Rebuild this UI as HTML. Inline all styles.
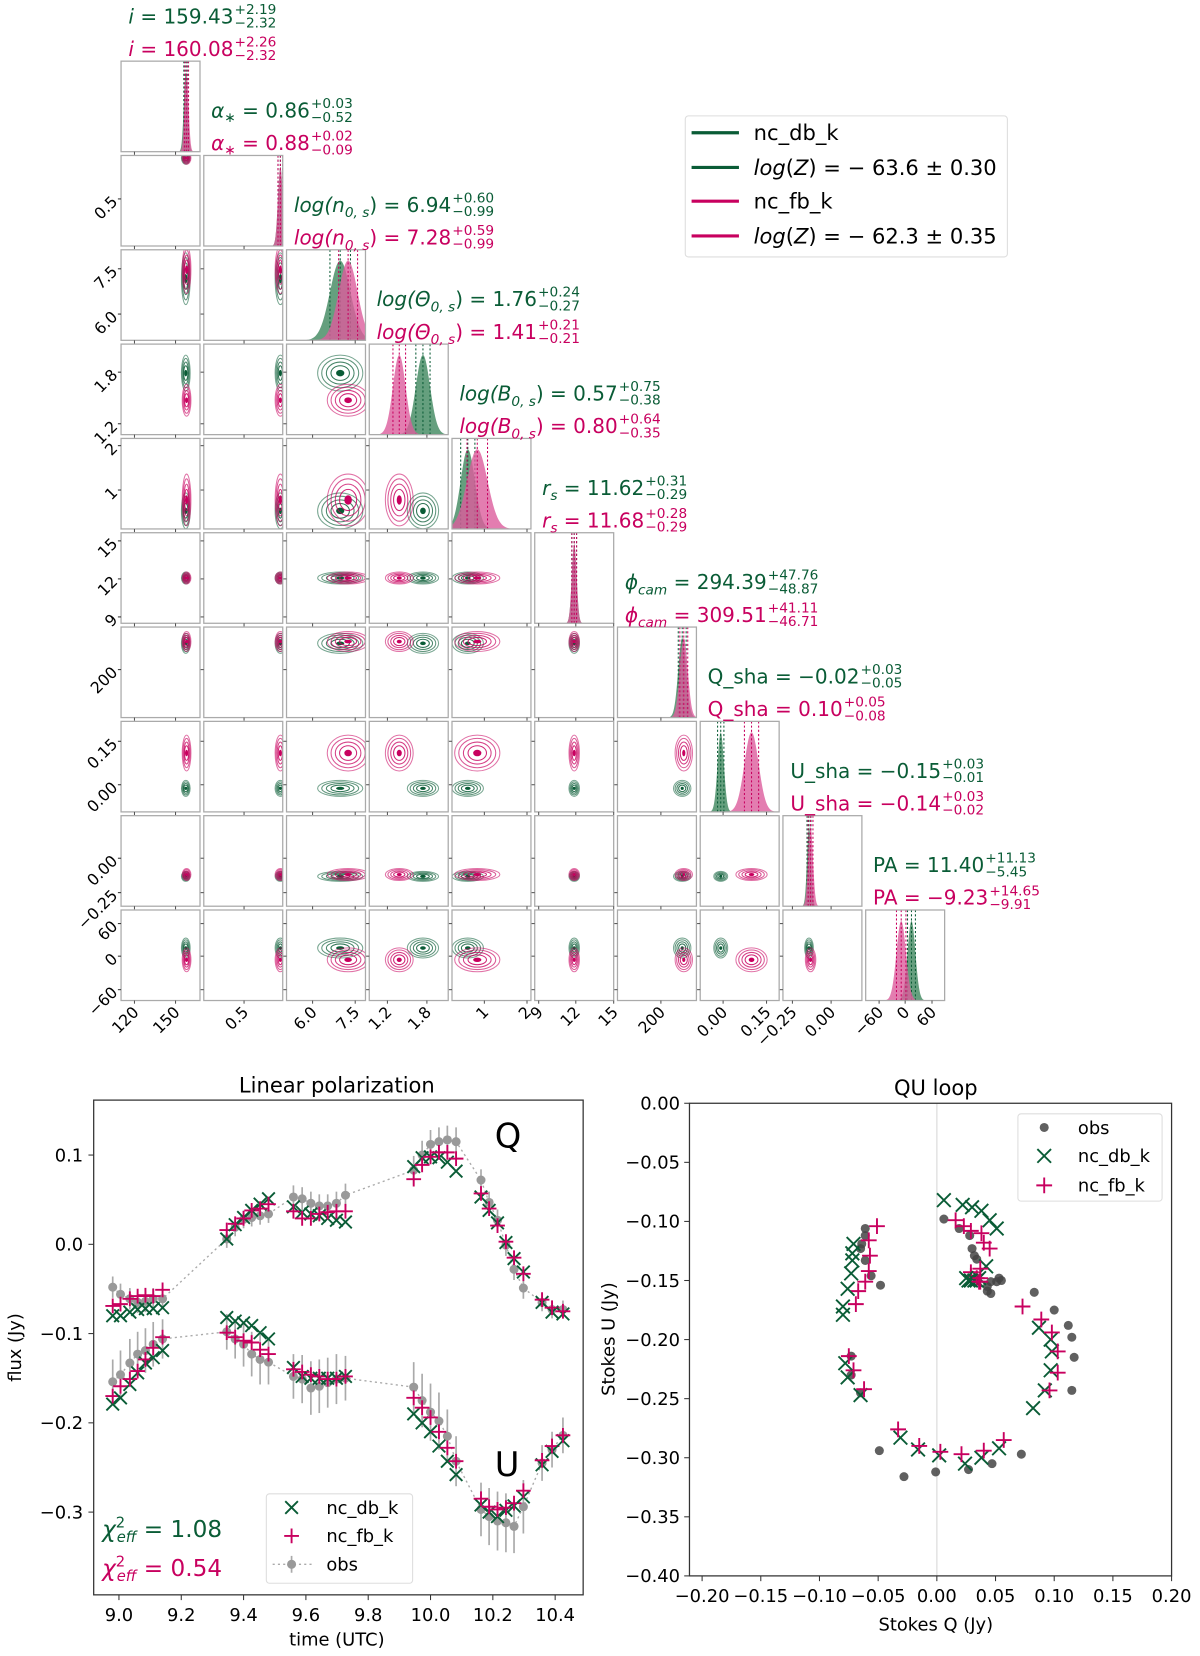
<!DOCTYPE html>
<html><head><meta charset="utf-8"><style>
html,body{margin:0;padding:0;background:#fff;}
svg{display:block;font-family:"DejaVu Sans","Liberation Sans",sans-serif;}
</style></head><body>
<svg id="fig" xmlns="http://www.w3.org/2000/svg" width="1200" height="1656" viewBox="0 0 1140 1573">
<g id="corner"></g>
<g id="legendTop">
  <rect x="651" y="110" width="306" height="134" rx="3" fill="#fff" stroke="#ddd"/>
  <line x1="657" y1="126" x2="702" y2="126" stroke="#0a5c36" stroke-width="3"/>
  <text x="716" y="133" font-size="20" fill="#000">nc_db_k</text>
  <line x1="657" y1="159" x2="702" y2="159" stroke="#0a5c36" stroke-width="3"/>
  <text x="716" y="166" font-size="20" fill="#000"><tspan font-style="italic">log</tspan>(<tspan font-style="italic">Z</tspan>) = − 63.6 ± 0.30</text>
  <line x1="657" y1="191" x2="702" y2="191" stroke="#c8005f" stroke-width="3"/>
  <text x="716" y="198" font-size="20" fill="#000">nc_fb_k</text>
  <line x1="657" y1="224" x2="702" y2="224" stroke="#c8005f" stroke-width="3"/>
  <text x="716" y="231" font-size="20" fill="#000"><tspan font-style="italic">log</tspan>(<tspan font-style="italic">Z</tspan>) = − 62.3 ± 0.35</text>
</g>
<g id="lp"></g>
<g id="qu"></g>
</svg>
<script>
// ===== Corner plot data (fractions of panel axis) =====
const cornerParams = ['i','alpha','n0s','theta0s','B0s','rs','phicam','Qsha','Usha','PA'];
const greenMu = [0.82,0.97,0.68,0.68,0.20,0.50,0.82,0.26,0.33,0.58];
const greenSd = [0.025,0.03,0.13,0.09,0.09,0.03,0.05,0.04,0.025,0.05];
const pinkMu  = [0.83,0.97,0.78,0.38,0.32,0.50,0.84,0.65,0.35,0.45];
const pinkSd  = [0.025,0.03,0.12,0.08,0.13,0.03,0.05,0.09,0.03,0.06];
const xTickFrac = [[0.17,0.69],[0.51],[0.33,0.87],[0.23,0.73],[0.41,0.95],[0.05,0.52,1.0],[0.55],[0.29,0.84],[0.12,0.61],[0.17,0.5,0.84]];
const xTickLab  = [['120','150'],['0.5'],['6.0','7.5'],['1.2','1.8'],['1','2'],['9','12','15'],['200'],['0.00','0.15'],['−0.25','0.00'],['−60','0','60']];
const yTickFrac = [[],[0.48],[0.21,0.71],[0.31,0.88],[0.08,0.57],[0.09,0.51,0.93],[0.47],[0.22,0.70],[0.47,0.85],[0.15,0.51,0.88]];
const yTickLab  = [[],['0.5'],['7.5','6.0'],['1.8','1.2'],['2','1'],['15','12','9'],['200'],['0.15','0.00'],['0.00','−0.25'],['60','0','−60']];
const titleMainG = ['<tspan font-style="italic">i</tspan> = 159.43',
 '<tspan font-style="italic">α</tspan><tspan font-size="13" dy="4">∗</tspan><tspan dy="-4"> = 0.86</tspan>',
 '<tspan font-style="italic">log(n</tspan><tspan font-size="13" dy="5" font-style="italic">0, s</tspan><tspan dy="-5">) = 6.94</tspan>',
 '<tspan font-style="italic">log(Θ</tspan><tspan font-size="13" dy="5" font-style="italic">0, s</tspan><tspan dy="-5">) = 1.76</tspan>',
 '<tspan font-style="italic">log(B</tspan><tspan font-size="13" dy="5" font-style="italic">0, s</tspan><tspan dy="-5">) = 0.57</tspan>',
 '<tspan font-style="italic">r</tspan><tspan font-size="13" dy="5" font-style="italic">s</tspan><tspan dy="-5"> = 11.62</tspan>',
 '<tspan font-style="italic">ϕ</tspan><tspan font-size="13" dy="5" font-style="italic">cam</tspan><tspan dy="-5"> = 294.39</tspan>',
 'Q_sha = −0.02','U_sha = −0.15','PA = 11.40'];
const titleMainP = ['<tspan font-style="italic">i</tspan> = 160.08',
 '<tspan font-style="italic">α</tspan><tspan font-size="13" dy="4">∗</tspan><tspan dy="-4"> = 0.88</tspan>',
 '<tspan font-style="italic">log(n</tspan><tspan font-size="13" dy="5" font-style="italic">0, s</tspan><tspan dy="-5">) = 7.28</tspan>',
 '<tspan font-style="italic">log(Θ</tspan><tspan font-size="13" dy="5" font-style="italic">0, s</tspan><tspan dy="-5">) = 1.41</tspan>',
 '<tspan font-style="italic">log(B</tspan><tspan font-size="13" dy="5" font-style="italic">0, s</tspan><tspan dy="-5">) = 0.80</tspan>',
 '<tspan font-style="italic">r</tspan><tspan font-size="13" dy="5" font-style="italic">s</tspan><tspan dy="-5"> = 11.68</tspan>',
 '<tspan font-style="italic">ϕ</tspan><tspan font-size="13" dy="5" font-style="italic">cam</tspan><tspan dy="-5"> = 309.51</tspan>',
 'Q_sha = 0.10','U_sha = −0.14','PA = −9.23'];
const supG = ['+2.19','+0.03','+0.60','+0.24','+0.75','+0.31','+47.76','+0.03','+0.03','+11.13'];
const subG = ['−2.32','−0.52','−0.99','−0.27','−0.38','−0.29','−48.87','−0.05','−0.01','−5.45'];
const supP = ['+2.26','+0.02','+0.59','+0.21','+0.64','+0.28','+41.11','+0.05','+0.03','+14.65'];
const subP = ['−2.32','−0.09','−0.99','−0.21','−0.35','−0.29','−46.71','−0.08','−0.02','−9.91'];

// ===== Time series data =====
const times = [8.98,9.005,9.035,9.06,9.085,9.11,9.14, 9.346,9.373,9.40,9.426,9.453,9.48, 9.56,9.588,9.616,9.643,9.67,9.698,9.727, 9.946,9.973,10.0,10.027,10.054,10.082, 10.162,10.188,10.215,10.242,10.268,10.298, 10.358,10.39,10.425];
const qDb = [-0.080,-0.080,-0.076,-0.073,-0.072,-0.072,-0.071, 0.006,0.022,0.030,0.038,0.045,0.051, 0.042,0.036,0.034,0.032,0.029,0.027,0.025, 0.087,0.097,0.098,0.097,0.092,0.082, 0.053,0.038,0.024,0.002,-0.016,-0.031, -0.065,-0.076,-0.078];
const qFb = [-0.069,-0.067,-0.061,-0.058,-0.057,-0.058,-0.051, 0.016,0.023,0.029,0.038,0.040,0.045, 0.037,0.029,0.029,0.034,0.036,0.037,0.037, 0.073,0.089,0.098,0.103,0.103,0.096, 0.057,0.040,0.021,0.003,-0.015,-0.033, -0.062,-0.071,-0.075];
const qObs = [-0.048,-0.056,-0.061,-0.065,-0.064,-0.061,-0.061, 0.006,0.019,0.028,0.030,0.032,0.034, 0.053,0.051,0.046,0.043,0.043,0.046,0.055, 0.083,0.100,0.112,0.115,0.117,0.115, 0.072,0.047,0.027,-0.001,-0.028,-0.049, -0.065,-0.073,-0.073];
const uDb = [-0.179,-0.172,-0.157,-0.144,-0.133,-0.127,-0.119, -0.082,-0.086,-0.088,-0.091,-0.099,-0.106, -0.138,-0.148,-0.150,-0.150,-0.150,-0.150,-0.148, -0.190,-0.200,-0.210,-0.226,-0.243,-0.258, -0.292,-0.300,-0.305,-0.298,-0.293,-0.283, -0.247,-0.232,-0.220];
const uFb = [-0.170,-0.159,-0.151,-0.142,-0.129,-0.116,-0.104, -0.099,-0.104,-0.108,-0.110,-0.118,-0.123, -0.140,-0.143,-0.146,-0.148,-0.151,-0.151,-0.148, -0.172,-0.183,-0.194,-0.210,-0.228,-0.243, -0.285,-0.294,-0.297,-0.295,-0.290,-0.276, -0.242,-0.226,-0.214];
const uObs = [-0.154,-0.146,-0.133,-0.123,-0.119,-0.112,-0.106, -0.098,-0.106,-0.112,-0.123,-0.129,-0.132, -0.148,-0.151,-0.161,-0.159,-0.155,-0.151,-0.150, -0.160,-0.175,-0.188,-0.198,-0.215,-0.243, -0.297,-0.305,-0.310,-0.312,-0.316,-0.294, -0.245,-0.230,-0.214];
const qErr = [0.012,0.012,0.012,0.012,0.012,0.012,0.012, 0.010,0.010,0.010,0.010,0.010,0.010, 0.013,0.013,0.013,0.013,0.013,0.013,0.013, 0.016,0.016,0.016,0.016,0.016,0.016, 0.012,0.012,0.012,0.012,0.012,0.012, 0.010,0.010,0.010];
const uErr = [0.025,0.027,0.027,0.025,0.025,0.025,0.022, 0.020,0.022,0.025,0.025,0.028,0.025, 0.025,0.027,0.030,0.030,0.028,0.028,0.025, 0.028,0.030,0.032,0.032,0.030,0.028, 0.030,0.032,0.033,0.033,0.030,0.030, 0.020,0.020,0.020];
const lpYTicks = [0.1,0.0,-0.1,-0.2,-0.3];
const lpYLabels = ['0.1','0.0','−0.1','−0.2','−0.3'];
const lpXTicks = [9.0,9.2,9.4,9.6,9.8,10.0,10.2,10.4];
const lpXLabels = ['9.0','9.2','9.4','9.6','9.8','10.0','10.2','10.4'];
const quXTicks = [-0.20,-0.15,-0.10,-0.05,0.00,0.05,0.10,0.15,0.20];
const quXLabels = ['−0.20','−0.15','−0.10','−0.05','0.00','0.05','0.10','0.15','0.20'];
const quYTicks = [0.00,-0.05,-0.10,-0.15,-0.20,-0.25,-0.30,-0.35,-0.40];
const quYLabels = ['0.00','−0.05','−0.10','−0.15','−0.20','−0.25','−0.30','−0.35','−0.40'];

const NS='http://www.w3.org/2000/svg';
function mk(parent,tag,attrs,txt){const e=document.createElementNS(NS,tag);for(const k in attrs)e.setAttribute(k,attrs[k]);if(txt!==undefined)e.innerHTML=txt;parent.appendChild(e);return e;}
const GC='#0a5c36', PC='#c8005f', GF='#5d9a77', PF='#dc5c9c';

// ===== Corner plot =====
const corner=document.getElementById('corner');
const X0=115,Y0=58,SX=78.6,SY=89.6,PW=75,PH=86;
const defs=mk(document.getElementById('fig'),'defs',{});
for(let r=0;r<10;r++){
  for(let c=0;c<=r;c++){
    const x=X0+c*SX,y=Y0+r*SY;
    const cp=mk(defs,'clipPath',{id:'cp'+r+'_'+c});
    mk(cp,'rect',{x:x,y:y,width:PW,height:PH});
    const g=mk(corner,'g',{'clip-path':'url(#cp'+r+'_'+c+')'});
    
    
    if(r===c){
      [[greenMu,greenSd,GF,GC],[pinkMu,pinkSd,PF,PC]].forEach(([mu,sd,fill,line],si)=>{
        let d='M'+x+','+(y+PH);
        for(let k=0;k<=120;k++){const f=k/120;const z=(f-mu[c])/sd[c];const h=Math.exp(-0.5*z*z)*0.88*PH;d+=' L'+(x+f*PW).toFixed(2)+','+(y+PH-h).toFixed(2);}
        d+=' L'+(x+PW)+','+(y+PH)+' Z';
        const p=mk(g,'path',{d:d,fill:fill,'fill-opacity':si?0.8:0.95,stroke:'none'});
        
        
        [-1,0,1].forEach(m=>{const lx=x+(mu[c]+m*sd[c])*PW;
          const l=mk(g,'line',{x1:lx,y1:y,x2:lx,y2:y+PH,stroke:line,'stroke-width':1,'stroke-dasharray':'2,2'});
          
          });
      });
    } else {
      [[greenMu,greenSd,GC],[pinkMu,pinkSd,PC]].forEach(([mu,sd,col])=>{
        const cx=x+mu[c]*PW, cy=y+(1-mu[r])*PH;
        [2.2,1.8,1.35,0.9].forEach((L,li)=>{
          const e=mk(g,'ellipse',{cx:cx,cy:cy,rx:Math.max(sd[c]*L*PW,2),ry:Math.max(sd[r]*L*PH,2),fill:'none',stroke:col,'stroke-opacity':0.55+li*0.1,'stroke-width':1});
          
          
        });
        const e=mk(g,'ellipse',{cx:cx,cy:cy,rx:Math.max(sd[c]*0.4*PW,1.5),ry:Math.max(sd[r]*0.4*PH,1.5),fill:col});
        
        
      });
    }
    const fr=mk(corner,'rect',{x:x,y:y,width:PW,height:PH,fill:'none',stroke:'#aaa','stroke-width':1.2});
    
    
    xTickFrac[c].forEach(f=>mk(corner,'line',{x1:x+f*PW,y1:y+PH,x2:x+f*PW,y2:y+PH+3,stroke:'#555','stroke-width':1}));
    if(c>0 && r!==c) yTickFrac[r].forEach(f=>mk(corner,'line',{x1:x,y1:y+f*PH,x2:x-3,y2:y+f*PH,stroke:'#555','stroke-width':1}));
    if(c===0) yTickFrac[r].forEach((f,k)=>{
      mk(corner,'line',{x1:x,y1:y+f*PH,x2:x-3,y2:y+f*PH,stroke:'#333','stroke-width':1});
      const t=mk(corner,'text',{x:x-6,y:y+f*PH+5,'font-size':15,'text-anchor':'end',transform:'rotate(-45 '+(x-6)+' '+(y+f*PH)+')'},yTickLab[r][k]);
      
      
    });
    if(r===9) xTickFrac[c].forEach((f,k)=>{
      const tx=x+f*PW+5, ty=y+PH+12;
      const t=mk(corner,'text',{x:tx,y:ty,'font-size':15,'text-anchor':'end',transform:'rotate(-45 '+tx+' '+ty+')'},xTickLab[c][k]);
      
      
    });
  }
}
// titles
for(let k=0;k<10;k++){
  const tx=122+k*SX, gy=22+k*SY, py=gy+31;
  [[titleMainG,supG,subG,gy,GC],[titleMainP,supP,subP,py,PC]].forEach(([mains,sups,subs,ty,col])=>{
    const t=mk(corner,'text',{x:tx,y:ty,'font-size':19,fill:col},mains[k]);
    
    
    let w=0;try{w=t.getComputedTextLength();}catch(e){w=120;}
    const s1=mk(corner,'text',{x:tx+w+1,y:ty-9,'font-size':13,fill:col},sups[k]);
    
    
    const s2=mk(corner,'text',{x:tx+w+1,y:ty+4,'font-size':13,fill:col},subs[k]);
    
    
  });
}

// markers
function xMark(g,x,y,s,col){const p=mk(g,'path',{d:`M${x-s},${y-s}L${x+s},${y+s}M${x-s},${y+s}L${x+s},${y-s}`,stroke:col,'stroke-width':1.8,fill:'none'});return p;}
function pMark(g,x,y,s,col){const p=mk(g,'path',{d:`M${x-s},${y}L${x+s},${y}M${x},${y-s}L${x},${y+s}`,stroke:col,'stroke-width':1.8,fill:'none'});return p;}

// ===== Linear polarization =====
const lp=document.getElementById('lp');
const L={l:89,r:554,t:1045,b:1515};
const xT=t=>113+(t-9)*296, yF=v=>1182-v*848;
const lpClip=mk(defs,'clipPath',{id:'lpc'});mk(lpClip,'rect',{x:L.l,y:L.t,width:L.r-L.l,height:L.b-L.t});
const lpg=mk(lp,'g',{'clip-path':'url(#lpc)'});
[[qObs,qErr],[uObs,uErr]].forEach(([arr,err],si)=>{
  const pl=mk(lpg,'polyline',{points:times.map((t,i)=>xT(t)+','+yF(arr[i])).join(' '),fill:'none',stroke:'#aaa','stroke-width':1.3,'stroke-dasharray':'2,3'});
  
  
  times.forEach((t,i)=>{
    const eb=mk(lpg,'line',{x1:xT(t),y1:yF(arr[i]+err[i]),x2:xT(t),y2:yF(arr[i]-err[i]),stroke:'#aaa','stroke-width':1.6});
    
    
    const c=mk(lpg,'circle',{cx:xT(t),cy:yF(arr[i]),r:4.3,fill:'#999'});
    
    
  });
});
[[qDb,qFb],[uDb,uFb]].forEach(([db,fb],si)=>{
  times.forEach((t,i)=>{
    const a=xMark(lpg,xT(t),yF(db[i]),6,GC);
    
    
    const b=pMark(lpg,xT(t),yF(fb[i]),7,PC);
    
    
  });
});
mk(lp,'rect',{x:L.l,y:L.t,width:L.r-L.l,height:L.b-L.t,fill:'none',stroke:'#333','stroke-width':1.2});
lpYTicks.forEach((v,k)=>{mk(lp,'line',{x1:L.l,y1:yF(v),x2:L.l-5,y2:yF(v),stroke:'#333'});
  const t=mk(lp,'text',{x:L.l-10,y:yF(v)+6,'font-size':17,'text-anchor':'end'},lpYLabels[k]);
  
  });
lpXTicks.forEach((v,k)=>{mk(lp,'line',{x1:xT(v),y1:L.b,x2:xT(v),y2:L.b+5,stroke:'#333'});
  const t=mk(lp,'text',{x:xT(v),y:L.b+25,'font-size':17,'text-anchor':'middle'},lpXLabels[k]);
  
  });
</script>
<script>
function T(parent,x,y,size,txt,name,extra){const t=mk(parent,'text',Object.assign({x:x,y:y,'font-size':size},extra||{}),txt);return t;}
T(lp,320,1038,20,'Linear polarization','chart-title',{'text-anchor':'middle'});
T(lp,320,1563,17,'time (UTC)','x-axis-title',{'text-anchor':'middle'});
T(lp,20,1280,17,'flux (Jy)','y-axis-title',{'text-anchor':'middle',transform:'rotate(-90 20 1280)'});
T(lp,470,1090,32,'Q','q-label');
T(lp,470,1402,32,'U','u-label');
T(lp,97,1460,22,'<tspan font-style="italic">χ</tspan><tspan font-size="14" dy="-9">2</tspan><tspan font-size="14" dy="14" dx="-8" font-style="italic">eff</tspan><tspan dy="-5"> = 1.08</tspan>','chi2-nc-db-k',{fill:GC});
T(lp,97,1497,22,'<tspan font-style="italic">χ</tspan><tspan font-size="14" dy="-9">2</tspan><tspan font-size="14" dy="14" dx="-8" font-style="italic">eff</tspan><tspan dy="-5"> = 0.54</tspan>','chi2-nc-fb-k',{fill:PC});
const lg=mk(lp,'g',{});
mk(lg,'rect',{x:253,y:1419,width:139,height:85,rx:3,fill:'#fff','fill-opacity':0.85,stroke:'#ddd'});
xMark(lg,277,1432,6,GC);T(lg,310,1438,17,'nc_db_k','legend-entry-nc-db-k');
pMark(lg,277,1459,7,PC);T(lg,310,1465,17,'nc_fb_k','legend-entry-nc-fb-k');
mk(lg,'line',{x1:259,y1:1486,x2:297,y2:1486,stroke:'#aaa','stroke-dasharray':'2,3','stroke-width':1.3});
mk(lg,'line',{x1:277,y1:1478,x2:277,y2:1494,stroke:'#aaa','stroke-width':1.6});
mk(lg,'circle',{cx:277,cy:1486,r:4.3,fill:'#999'});
T(lg,310,1492,17,'obs','legend-entry-obs');

// ===== QU loop =====
const qu=document.getElementById('qu');
const Q={l:655,r:1113,t:1048,b:1497};
const xq=q=>890+q*1115, yu=u=>1048-u*1122.5;
mk(qu,'line',{x1:xq(0),y1:Q.t,x2:xq(0),y2:Q.b,stroke:'#e4e4e4','stroke-width':1.5});
times.forEach((t,i)=>{
  const c=mk(qu,'circle',{cx:xq(qObs[i]),cy:yu(uObs[i]),r:4.3,fill:'#444','fill-opacity':0.85});
  
  
});
times.forEach((t,i)=>{
  const a=xMark(qu,xq(qDb[i]),yu(uDb[i]),6.5,GC);
  
  
  const b=pMark(qu,xq(qFb[i]),yu(uFb[i]),7.5,PC);
  
  
});
mk(qu,'rect',{x:Q.l,y:Q.t,width:Q.r-Q.l,height:Q.b-Q.t,fill:'none',stroke:'#333','stroke-width':1.2});
quXTicks.forEach((v,k)=>{mk(qu,'line',{x1:xq(v),y1:Q.b,x2:xq(v),y2:Q.b+5,stroke:'#333'});
  T(qu,xq(v),Q.b+25,17,quXLabels[k],'x-tick-label',{'text-anchor':'middle'});});
quYTicks.forEach((v,k)=>{mk(qu,'line',{x1:Q.l,y1:yu(v),x2:Q.l-5,y2:yu(v),stroke:'#333'});
  T(qu,Q.l-9,yu(v)+6,17,quYLabels[k],'y-tick-label',{'text-anchor':'end'});});
T(qu,889,1040,20,'QU loop','chart-title',{'text-anchor':'middle'});
T(qu,889,1549,17,'Stokes Q (Jy)','x-axis-title',{'text-anchor':'middle'});
T(qu,584,1272,17,'Stokes U (Jy)','y-axis-title',{'text-anchor':'middle',transform:'rotate(-90 584 1272)'});
const ql=mk(qu,'g',{});
mk(ql,'rect',{x:967,y:1058,width:137,height:83,rx:3,fill:'#fff',stroke:'#ddd'});
mk(ql,'circle',{cx:992,cy:1071,r:4.3,fill:'#444','fill-opacity':0.85});T(ql,1024,1077,17,'obs','legend-entry-obs');
xMark(ql,992,1098,6.5,GC);T(ql,1024,1104,17,'nc_db_k','legend-entry-nc-db-k');
pMark(ql,992,1126,7.5,PC);T(ql,1024,1132,17,'nc_fb_k','legend-entry-nc-fb-k');
</script>
</body></html>
